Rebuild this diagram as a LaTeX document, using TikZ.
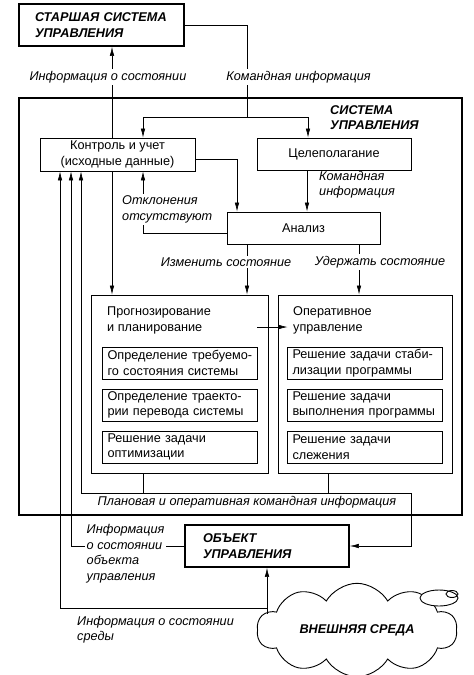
\documentclass[tikz,border=0pt]{standalone}
\usepackage{fontspec}
\setmainfont{Liberation Sans}
\usetikzlibrary{arrows.meta,shapes.symbols,calc}

\begin{document}
\begin{tikzpicture}[x=1pt,y=-1pt,
  font=\fontsize{12.7}{15.5}\selectfont,
  every node/.style={inner sep=0pt},
  box/.style={rectangle,draw,line width=0.9pt},
  bigbox/.style={rectangle,draw,line width=1.8pt},
  sub/.style={box,minimum width=155pt,minimum height=32pt,text width=145pt,inner xsep=5pt,align=left},
  lbl/.style={font=\fontsize{12.7}{15.5}\selectfont\itshape,align=left},
  ttl/.style={font=\fontsize{12.7}{15.5}\selectfont\bfseries\itshape,align=left},
  wire/.style={line width=0.6pt},
  arr/.style={wire,-{Latex[length=9pt,width=4.5pt]}}]
\useasboundingbox (0,0) rectangle (474,675);

\node[bigbox,ttl,minimum width=165pt,minimum height=42pt,text width=133pt,inner xsep=16pt] (senior) at (101.5,25) {СТАРШАЯ СИСТЕМА\\УПРАВЛЕНИЯ};
\node[bigbox,minimum width=443pt,minimum height=417pt] (sys) at (240.5,306.5) {};
\node[ttl,anchor=west] (systitle) at (330,117.5) {СИСТЕМА\\УПРАВЛЕНИЯ};

\node[box,minimum width=155pt,minimum height=33pt,align=center] (ctrl) at (117.5,154.5) {Контроль и учет\\(исходные данные)};
\node[box,minimum width=154pt,minimum height=32pt] (goal) at (334,154) {Целеполагание};
\node[box,minimum width=153pt,minimum height=32pt] (anal) at (303.5,228) {Анализ};

\node[box,minimum width=177pt,minimum height=178pt] (prog) at (179.5,384) {};
\node[box,minimum width=174pt,minimum height=178pt] (oper) at (365,384) {};
\node[anchor=west,align=left] (progttl) at (107,320.5) {Прогнозирование\\и планирование};
\node[anchor=west,align=left] (operttl) at (293,320.5) {Оперативное\\управление};
\node[sub] (p1) at (180,363) {Определение требуемо-\\го состояния системы};
\node[sub] (p2) at (180,405) {Определение траекто-\\рии перевода системы};
\node[sub] (p3) at (180,447) {Решение задачи\\оптимизации};
\node[sub] (o1) at (365,363) {Решение задачи стаби-\\лизации программы};
\node[sub] (o2) at (365,405) {Решение задачи\\выполнения программы};
\node[sub] (o3) at (365,447) {Решение задачи\\слежения};

\node[bigbox,ttl,minimum width=164pt,minimum height=42pt,text width=128pt,inner xsep=18pt] (obj) at (267,546) {ОБЪЕКТ\\УПРАВЛЕНИЯ};
\node[cloud,draw,line width=0.9pt,cloud puffs=10,cloud puff arc=120,aspect=2.4,minimum width=200pt,minimum height=84pt,ttl] (env) at (357,630) {ВНЕШНЯЯ СРЕДА};
\draw[fill=white,line width=0.9pt] (439,598) ellipse [x radius=19pt,y radius=8pt];
\draw[line width=0.9pt] (452,594) ellipse [x radius=6pt,y radius=3.5pt];

% command flow from the senior system
\coordinate (cmdsplit) at (247,117);
\draw[wire] (senior.east) -| (cmdsplit);
\draw[arr] (cmdsplit) -| (143,0 |- ctrl.north);
\draw[arr] (cmdsplit) -| (308,0 |- goal.north);
\draw[arr] (112,0 |- ctrl.north) -- (112,0 |- senior.south);
\draw[arr] (112,0 |- ctrl.south) -- (112,0 |- prog.north);

% inside the system
\draw[arr] ([yshift=-4.5pt]ctrl.east) -| (237,0 |- anal.north);
\draw[arr] (307,0 |- goal.south) -- (307,0 |- anal.north);
\draw[arr] ([yshift=-5pt]anal.west) -| (143,0 |- ctrl.south);
\draw[arr] (247,0 |- anal.south) -- (247,0 |- prog.north);
\draw[arr] (359,0 |- anal.south) -- (359,0 |- oper.north);
\draw[arr] ($(prog.east)+(-11,-57)$) -- ($(oper.west)+(10,-57)$);

% command bus and feedback
\coordinate (busL) at (81,493);
\coordinate (busR) at (411,493);
\draw[wire] (143,0 |- prog.south) -- (143,0 |- busL);
\draw[wire] (328,0 |- oper.south) -- (328,0 |- busL);
\draw[arr] (busL) -- (busR) |- (obj.east);
\draw[arr] (busL) -- (81,0 |- ctrl.south);
\draw[arr] (obj.west) -| (71,0 |- ctrl.south);
\coordinate (envout) at (267,614);
\coordinate (envtap) at (267,608);
\draw[arr] (envout) -- (obj.south);
\draw[arr] (envtap) -| (60,0 |- ctrl.south);

% labels
\node[lbl,fill=white,inner sep=2pt] at (108,77) {Информация о состоянии};
\node[lbl,fill=white,inner sep=2pt] at (298.5,77) {Командная информация};
\node[lbl,anchor=west] at (319,184.5) {Командная\\информация};
\node[lbl,fill=white,anchor=west,inner sep=2pt] at (120,209.5) {Отклонения\\отсутствуют};
\node[lbl,fill=white,inner sep=2pt] at (226,262) {Изменить состояние};
\node[lbl,fill=white,inner sep=2pt] at (380,262) {Удержать состояние};
\node[lbl] at (247,502) {Плановая и оперативная командная информация};
\node[lbl,fill=white,anchor=west,inner sep=1.5pt] at (85,553.5) {Информация\\о состоянии\\объекта\\управления};
\node[lbl,anchor=west] at (77,629.5) {Информация о состоянии\\среды};
\end{tikzpicture}
\end{document}
